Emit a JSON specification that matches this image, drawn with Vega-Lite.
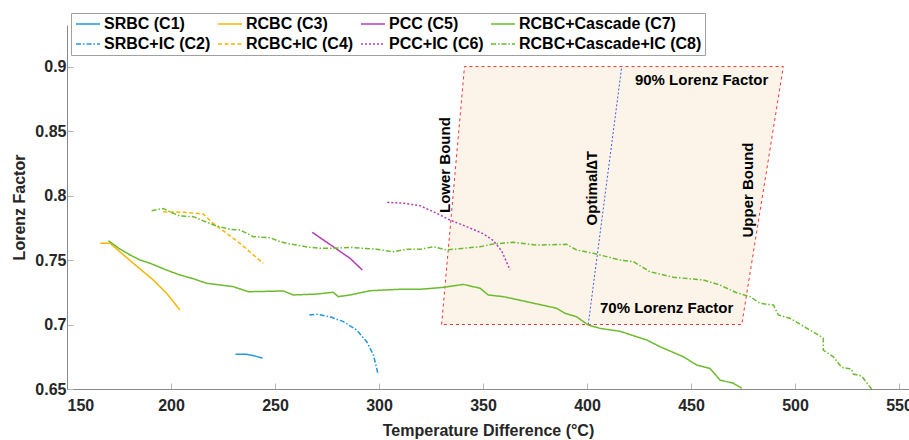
{
  "$schema": "https://vega.github.io/schema/vega-lite/v6.json",
  "width": 842,
  "height": 364,
  "autosize": {"type": "none"},
  "padding": {"left": 67, "top": 25, "right": 0, "bottom": 51},
  "background": "white",
  "config": {
    "view": {"stroke": null},
    "font": "Liberation Sans",
    "axis": {
      "grid": false,
      "domainColor": "#8a8a8a",
      "tickColor": "#b5b5b5",
      "tickSize": -6,
      "labelFont": "Liberation Sans",
      "labelFontWeight": "bold",
      "labelFontSize": 16,
      "labelColor": "#262626",
      "titleFont": "Liberation Sans",
      "titleFontWeight": "bold",
      "titleFontSize": 16,
      "titleColor": "#262626"
    },
    "legend": {
      "labelFont": "Liberation Sans",
      "labelFontWeight": "bold",
      "labelFontSize": 16,
      "labelColor": "#000000"
    }
  },
  "datasets": {
    "curves": [
      {"series": "SRBC (C1)", "i": 1, "x": 231, "y": 0.677},
      {"series": "SRBC (C1)", "i": 2, "x": 236, "y": 0.677},
      {"series": "SRBC (C1)", "i": 3, "x": 240, "y": 0.6757},
      {"series": "SRBC (C1)", "i": 4, "x": 244, "y": 0.674},

      {"series": "SRBC+IC (C2)", "i": 1, "x": 266.5, "y": 0.7074},
      {"series": "SRBC+IC (C2)", "i": 2, "x": 270, "y": 0.708},
      {"series": "SRBC+IC (C2)", "i": 3, "x": 276.4, "y": 0.706},
      {"series": "SRBC+IC (C2)", "i": 4, "x": 282.9, "y": 0.7022},
      {"series": "SRBC+IC (C2)", "i": 5, "x": 289.3, "y": 0.6957},
      {"series": "SRBC+IC (C2)", "i": 6, "x": 294.1, "y": 0.6867},
      {"series": "SRBC+IC (C2)", "i": 7, "x": 297.3, "y": 0.6764},
      {"series": "SRBC+IC (C2)", "i": 8, "x": 298.9, "y": 0.666},
      {"series": "SRBC+IC (C2)", "i": 9, "x": 299.5, "y": 0.6616},

      {"series": "RCBC (C3)", "i": 1, "x": 166, "y": 0.763},
      {"series": "RCBC (C3)", "i": 2, "x": 170.7, "y": 0.763},
      {"series": "RCBC (C3)", "i": 3, "x": 175, "y": 0.757},
      {"series": "RCBC (C3)", "i": 4, "x": 181.9, "y": 0.7474},
      {"series": "RCBC (C3)", "i": 5, "x": 191.5, "y": 0.7345},
      {"series": "RCBC (C3)", "i": 6, "x": 197.9, "y": 0.7242},
      {"series": "RCBC (C3)", "i": 7, "x": 204.3, "y": 0.7112},

      {"series": "RCBC+IC (C4)", "i": 1, "x": 196.3, "y": 0.7874},
      {"series": "RCBC+IC (C4)", "i": 2, "x": 205.9, "y": 0.787},
      {"series": "RCBC+IC (C4)", "i": 3, "x": 215.5, "y": 0.7857},
      {"series": "RCBC+IC (C4)", "i": 4, "x": 220.3, "y": 0.7784},
      {"series": "RCBC+IC (C4)", "i": 5, "x": 226.8, "y": 0.7707},
      {"series": "RCBC+IC (C4)", "i": 6, "x": 233.2, "y": 0.7629},
      {"series": "RCBC+IC (C4)", "i": 7, "x": 239.6, "y": 0.7539},
      {"series": "RCBC+IC (C4)", "i": 8, "x": 244.4, "y": 0.7474},

      {"series": "PCC (C5)", "i": 1, "x": 267.9, "y": 0.7715},
      {"series": "PCC (C5)", "i": 2, "x": 278, "y": 0.7603},
      {"series": "PCC (C5)", "i": 3, "x": 286.1, "y": 0.7513},
      {"series": "PCC (C5)", "i": 4, "x": 292, "y": 0.7422},

      {"series": "PCC+IC (C6)", "i": 1, "x": 304, "y": 0.7947},
      {"series": "PCC+IC (C6)", "i": 2, "x": 312, "y": 0.794},
      {"series": "PCC+IC (C6)", "i": 3, "x": 319.7, "y": 0.7921},
      {"series": "PCC+IC (C6)", "i": 4, "x": 327.7, "y": 0.7862},
      {"series": "PCC+IC (C6)", "i": 5, "x": 334.1, "y": 0.781},
      {"series": "PCC+IC (C6)", "i": 6, "x": 342, "y": 0.776},
      {"series": "PCC+IC (C6)", "i": 7, "x": 350, "y": 0.7705},
      {"series": "PCC+IC (C6)", "i": 8, "x": 355, "y": 0.765},
      {"series": "PCC+IC (C6)", "i": 9, "x": 359, "y": 0.757},
      {"series": "PCC+IC (C6)", "i": 10, "x": 363, "y": 0.7422},

      {"series": "RCBC+Cascade (C7)", "i": 1, "x": 169.9, "y": 0.765},
      {"series": "RCBC+Cascade (C7)", "i": 2, "x": 175, "y": 0.759},
      {"series": "RCBC+Cascade (C7)", "i": 3, "x": 180.3, "y": 0.7539},
      {"series": "RCBC+Cascade (C7)", "i": 4, "x": 185.1, "y": 0.75},
      {"series": "RCBC+Cascade (C7)", "i": 5, "x": 189.9, "y": 0.7475},
      {"series": "RCBC+Cascade (C7)", "i": 6, "x": 197.9, "y": 0.7422},
      {"series": "RCBC+Cascade (C7)", "i": 7, "x": 204.3, "y": 0.7384},
      {"series": "RCBC+Cascade (C7)", "i": 8, "x": 210.7, "y": 0.7355},
      {"series": "RCBC+Cascade (C7)", "i": 9, "x": 217.2, "y": 0.7319},
      {"series": "RCBC+Cascade (C7)", "i": 10, "x": 230, "y": 0.7293},
      {"series": "RCBC+Cascade (C7)", "i": 11, "x": 237.2, "y": 0.7254},
      {"series": "RCBC+Cascade (C7)", "i": 12, "x": 254, "y": 0.726},
      {"series": "RCBC+Cascade (C7)", "i": 13, "x": 258.8, "y": 0.7229},
      {"series": "RCBC+Cascade (C7)", "i": 14, "x": 270, "y": 0.7236},
      {"series": "RCBC+Cascade (C7)", "i": 15, "x": 278, "y": 0.725},
      {"series": "RCBC+Cascade (C7)", "i": 16, "x": 280.4, "y": 0.7216},
      {"series": "RCBC+Cascade (C7)", "i": 17, "x": 286.1, "y": 0.7229},
      {"series": "RCBC+Cascade (C7)", "i": 18, "x": 295.7, "y": 0.7262},
      {"series": "RCBC+Cascade (C7)", "i": 19, "x": 310.1, "y": 0.7273},
      {"series": "RCBC+Cascade (C7)", "i": 20, "x": 319.7, "y": 0.7273},
      {"series": "RCBC+Cascade (C7)", "i": 21, "x": 331, "y": 0.7288},
      {"series": "RCBC+Cascade (C7)", "i": 22, "x": 340.5, "y": 0.7311},
      {"series": "RCBC+Cascade (C7)", "i": 23, "x": 348.6, "y": 0.7281},
      {"series": "RCBC+Cascade (C7)", "i": 24, "x": 352.5, "y": 0.7229},
      {"series": "RCBC+Cascade (C7)", "i": 25, "x": 359.8, "y": 0.7216},
      {"series": "RCBC+Cascade (C7)", "i": 26, "x": 371, "y": 0.7177},
      {"series": "RCBC+Cascade (C7)", "i": 27, "x": 385.4, "y": 0.7126},
      {"series": "RCBC+Cascade (C7)", "i": 28, "x": 389.4, "y": 0.7087},
      {"series": "RCBC+Cascade (C7)", "i": 29, "x": 395, "y": 0.706},
      {"series": "RCBC+Cascade (C7)", "i": 30, "x": 400.6, "y": 0.6996},
      {"series": "RCBC+Cascade (C7)", "i": 31, "x": 406.3, "y": 0.697},
      {"series": "RCBC+Cascade (C7)", "i": 32, "x": 415.9, "y": 0.6947},
      {"series": "RCBC+Cascade (C7)", "i": 33, "x": 428.7, "y": 0.688},
      {"series": "RCBC+Cascade (C7)", "i": 34, "x": 435.1, "y": 0.6828},
      {"series": "RCBC+Cascade (C7)", "i": 35, "x": 446.3, "y": 0.675},
      {"series": "RCBC+Cascade (C7)", "i": 36, "x": 452.7, "y": 0.6686},
      {"series": "RCBC+Cascade (C7)", "i": 37, "x": 459.1, "y": 0.666},
      {"series": "RCBC+Cascade (C7)", "i": 38, "x": 463.9, "y": 0.657},
      {"series": "RCBC+Cascade (C7)", "i": 39, "x": 470.4, "y": 0.6544},
      {"series": "RCBC+Cascade (C7)", "i": 40, "x": 474.4, "y": 0.6505},

      {"series": "RCBC+Cascade+IC (C8)", "i": 1, "x": 190.7, "y": 0.7882},
      {"series": "RCBC+Cascade+IC (C8)", "i": 2, "x": 196.3, "y": 0.79},
      {"series": "RCBC+Cascade+IC (C8)", "i": 3, "x": 200, "y": 0.787},
      {"series": "RCBC+Cascade+IC (C8)", "i": 4, "x": 204.3, "y": 0.7841},
      {"series": "RCBC+Cascade+IC (C8)", "i": 5, "x": 210.7, "y": 0.7836},
      {"series": "RCBC+Cascade+IC (C8)", "i": 6, "x": 216, "y": 0.78},
      {"series": "RCBC+Cascade+IC (C8)", "i": 7, "x": 222, "y": 0.7764},
      {"series": "RCBC+Cascade+IC (C8)", "i": 8, "x": 228.4, "y": 0.7738},
      {"series": "RCBC+Cascade+IC (C8)", "i": 9, "x": 233.2, "y": 0.7733},
      {"series": "RCBC+Cascade+IC (C8)", "i": 10, "x": 239.6, "y": 0.7681},
      {"series": "RCBC+Cascade+IC (C8)", "i": 11, "x": 247.6, "y": 0.7673},
      {"series": "RCBC+Cascade+IC (C8)", "i": 12, "x": 252.4, "y": 0.7642},
      {"series": "RCBC+Cascade+IC (C8)", "i": 13, "x": 255.6, "y": 0.7629},
      {"series": "RCBC+Cascade+IC (C8)", "i": 14, "x": 266.8, "y": 0.7598},
      {"series": "RCBC+Cascade+IC (C8)", "i": 15, "x": 271.6, "y": 0.7591},
      {"series": "RCBC+Cascade+IC (C8)", "i": 16, "x": 278, "y": 0.7591},
      {"series": "RCBC+Cascade+IC (C8)", "i": 17, "x": 286.1, "y": 0.7598},
      {"series": "RCBC+Cascade+IC (C8)", "i": 18, "x": 298.9, "y": 0.7583},
      {"series": "RCBC+Cascade+IC (C8)", "i": 19, "x": 306.9, "y": 0.7564},
      {"series": "RCBC+Cascade+IC (C8)", "i": 20, "x": 313.3, "y": 0.7583},
      {"series": "RCBC+Cascade+IC (C8)", "i": 21, "x": 319.7, "y": 0.7583},
      {"series": "RCBC+Cascade+IC (C8)", "i": 22, "x": 326.1, "y": 0.7603},
      {"series": "RCBC+Cascade+IC (C8)", "i": 23, "x": 332.5, "y": 0.7578},
      {"series": "RCBC+Cascade+IC (C8)", "i": 24, "x": 340, "y": 0.759},
      {"series": "RCBC+Cascade+IC (C8)", "i": 25, "x": 348.6, "y": 0.7603},
      {"series": "RCBC+Cascade+IC (C8)", "i": 26, "x": 355, "y": 0.7625},
      {"series": "RCBC+Cascade+IC (C8)", "i": 27, "x": 364.6, "y": 0.7637},
      {"series": "RCBC+Cascade+IC (C8)", "i": 28, "x": 375.8, "y": 0.7616},
      {"series": "RCBC+Cascade+IC (C8)", "i": 29, "x": 390.2, "y": 0.7622},
      {"series": "RCBC+Cascade+IC (C8)", "i": 30, "x": 395, "y": 0.7578},
      {"series": "RCBC+Cascade+IC (C8)", "i": 31, "x": 403, "y": 0.7552},
      {"series": "RCBC+Cascade+IC (C8)", "i": 32, "x": 415.9, "y": 0.75},
      {"series": "RCBC+Cascade+IC (C8)", "i": 33, "x": 422.3, "y": 0.7487},
      {"series": "RCBC+Cascade+IC (C8)", "i": 34, "x": 430.3, "y": 0.7409},
      {"series": "RCBC+Cascade+IC (C8)", "i": 35, "x": 441.5, "y": 0.7366},
      {"series": "RCBC+Cascade+IC (C8)", "i": 36, "x": 455.9, "y": 0.7345},
      {"series": "RCBC+Cascade+IC (C8)", "i": 37, "x": 463.9, "y": 0.7306},
      {"series": "RCBC+Cascade+IC (C8)", "i": 38, "x": 471.9, "y": 0.7246},
      {"series": "RCBC+Cascade+IC (C8)", "i": 39, "x": 478.4, "y": 0.7216},
      {"series": "RCBC+Cascade+IC (C8)", "i": 40, "x": 483.2, "y": 0.7164},
      {"series": "RCBC+Cascade+IC (C8)", "i": 41, "x": 489.6, "y": 0.7151},
      {"series": "RCBC+Cascade+IC (C8)", "i": 42, "x": 492, "y": 0.7074},
      {"series": "RCBC+Cascade+IC (C8)", "i": 43, "x": 497.6, "y": 0.7048},
      {"series": "RCBC+Cascade+IC (C8)", "i": 44, "x": 512, "y": 0.6911},
      {"series": "RCBC+Cascade+IC (C8)", "i": 45, "x": 513.6, "y": 0.6893},
      {"series": "RCBC+Cascade+IC (C8)", "i": 46, "x": 513.6, "y": 0.6802},
      {"series": "RCBC+Cascade+IC (C8)", "i": 47, "x": 518.4, "y": 0.675},
      {"series": "RCBC+Cascade+IC (C8)", "i": 48, "x": 522.4, "y": 0.6668},
      {"series": "RCBC+Cascade+IC (C8)", "i": 49, "x": 527.2, "y": 0.6653},
      {"series": "RCBC+Cascade+IC (C8)", "i": 50, "x": 528, "y": 0.6616},
      {"series": "RCBC+Cascade+IC (C8)", "i": 51, "x": 532, "y": 0.6601},
      {"series": "RCBC+Cascade+IC (C8)", "i": 52, "x": 536.8, "y": 0.65}
    ],
    "region": [
      {"y": 0.7, "xl": 330.1, "xr": 474.4},
      {"y": 0.9, "xl": 341.1, "xr": 494.4}
    ],
    "border": [
      {"i": 1, "x": 330.1, "y": 0.7},
      {"i": 2, "x": 341.1, "y": 0.9},
      {"i": 3, "x": 494.4, "y": 0.9},
      {"i": 4, "x": 474.4, "y": 0.7},
      {"i": 5, "x": 330.1, "y": 0.7}
    ],
    "optimal": [
      {"i": 1, "x": 400.6, "y": 0.7},
      {"i": 2, "x": 416.7, "y": 0.9}
    ],
    "vlabels": [
      {"x": 331.7, "y": 0.8236, "text": "Lower Bound"},
      {"x": 402.2, "y": 0.8056, "text": "Optimal∆T"},
      {"x": 477.5, "y": 0.8043, "text": "Upper Bound"}
    ],
    "hlabels": [
      {"x": 455.1, "y": 0.8895, "text": "90% Lorenz Factor"},
      {"x": 438.3, "y": 0.7126, "text": "70% Lorenz Factor"}
    ]
  },
  "layer": [
    {
      "data": {"name": "region"},
      "mark": {"type": "area", "orient": "horizontal", "fill": "#FCF4E8", "opacity": 1},
      "encoding": {
        "y": {"field": "y", "type": "quantitative", "scale": {"domain": [0.65, 0.9322], "nice": false, "zero": false},
              "axis": {"values": [0.65, 0.7, 0.75, 0.8, 0.85, 0.9], "format": "~g", "title": "Lorenz Factor", "titlePadding": 7, "labelPadding": 7}},
        "x": {"field": "xl", "type": "quantitative", "scale": {"domain": [150, 554.8], "nice": false, "zero": false},
              "axis": {"values": [150, 200, 250, 300, 350, 400, 450, 500, 550], "title": "Temperature Difference (°C)", "titlePadding": 9, "labelPadding": 14}},
        "x2": {"field": "xr"}
      }
    },
    {
      "data": {"name": "border"},
      "mark": {"type": "line", "stroke": "#FF3333", "strokeWidth": 1, "strokeDash": [3, 3]},
      "encoding": {
        "x": {"field": "x", "type": "quantitative"},
        "y": {"field": "y", "type": "quantitative"},
        "order": {"field": "i"}
      }
    },
    {
      "data": {"name": "optimal"},
      "mark": {"type": "line", "stroke": "#3D5BF0", "strokeWidth": 1, "strokeDash": [2, 2]},
      "encoding": {
        "x": {"field": "x", "type": "quantitative"},
        "y": {"field": "y", "type": "quantitative"},
        "order": {"field": "i"}
      }
    },
    {
      "data": {"name": "curves"},
      "mark": {"type": "line", "strokeWidth": 1.5, "clip": true},
      "encoding": {
        "x": {"field": "x", "type": "quantitative"},
        "y": {"field": "y", "type": "quantitative"},
        "order": {"field": "i"},
        "color": {
          "field": "series", "type": "nominal",
          "scale": {
            "domain": ["SRBC (C1)", "RCBC (C3)", "PCC (C5)", "RCBC+Cascade (C7)", "SRBC+IC (C2)", "RCBC+IC (C4)", "PCC+IC (C6)", "RCBC+Cascade+IC (C8)"],
            "range": ["#2196E0", "#F7B500", "#B03FB5", "#6CBB2E", "#2196E0", "#F7B500", "#B03FB5", "#6CBB2E"]
          },
          "legend": {
            "title": null,
            "orient": "none",
            "legendX": 4,
            "legendY": -12,
            "direction": "horizontal",
            "columns": 4,
            "symbolType": "M-1,0H3",
            "symbolSize": 144,
            "symbolStrokeWidth": 1.5,
            "labelOffset": 14,
            "columnPadding": 4,
            "rowPadding": 4,
            "padding": 3,
            "strokeColor": "#A0A0A0",
            "fillColor": "white",
            "gridAlign": "each",
            "labelLimit": 300
          }
        },
        "strokeDash": {
          "field": "series", "type": "nominal",
          "scale": {
            "domain": ["SRBC (C1)", "RCBC (C3)", "PCC (C5)", "RCBC+Cascade (C7)", "SRBC+IC (C2)", "RCBC+IC (C4)", "PCC+IC (C6)", "RCBC+Cascade+IC (C8)"],
            "range": [[1, 0], [1, 0], [1, 0], [1, 0], [5, 2, 1.5, 2], [4, 2.5], [2, 2], [5, 2, 1.5, 2]]
          },
          "legend": {
            "title": null,
            "orient": "none",
            "legendX": 4,
            "legendY": -12,
            "direction": "horizontal",
            "columns": 4,
            "symbolType": "M-1,0H3",
            "symbolSize": 144,
            "symbolStrokeWidth": 1.5,
            "labelOffset": 14,
            "columnPadding": 4,
            "rowPadding": 4,
            "padding": 3,
            "strokeColor": "#A0A0A0",
            "fillColor": "white",
            "gridAlign": "each",
            "labelLimit": 300
          }
        }
      }
    },
    {
      "data": {"name": "vlabels"},
      "mark": {"type": "text", "angle": 270, "fontSize": 15, "fontWeight": "bold", "color": "#000000", "align": "center", "baseline": "middle"},
      "encoding": {
        "x": {"field": "x", "type": "quantitative"},
        "y": {"field": "y", "type": "quantitative"},
        "text": {"field": "text"}
      }
    },
    {
      "data": {"name": "hlabels"},
      "mark": {"type": "text", "fontSize": 15, "fontWeight": "bold", "color": "#000000", "align": "center", "baseline": "middle"},
      "encoding": {
        "x": {"field": "x", "type": "quantitative"},
        "y": {"field": "y", "type": "quantitative"},
        "text": {"field": "text"}
      }
    }
  ]
}
